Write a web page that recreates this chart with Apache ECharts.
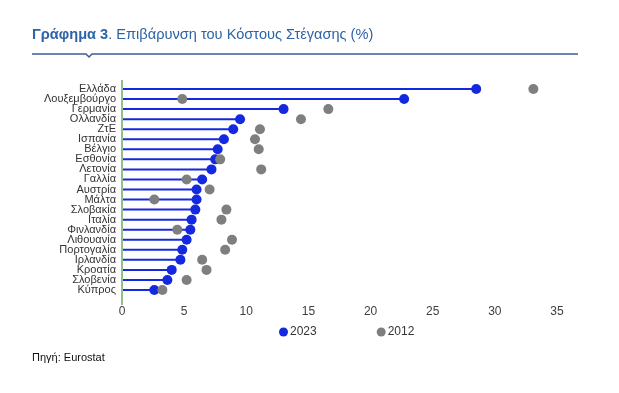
<!DOCTYPE html>
<html><head><meta charset="utf-8">
<script src="https://cdn.jsdelivr.net/npm/echarts@6/dist/echarts.min.js"></script>
<style>html,body{margin:0;padding:0;background:#fff}#c{width:619px;height:393px}</style>
</head><body><div id="c"></div>
<script>
const categories = ["Ελλάδα","Λουξεμβούργο","Γερμανία","Ολλανδία","ΖτΕ","Ισπανία","Βέλγιο","Εσθονία","Λετονία","Γαλλία","Αυστρία","Μάλτα","Σλοβακία","Ιταλία","Φινλανδία","Λιθουανία","Πορτογαλία","Ιρλανδία","Κροατία","Σλοβενία","Κύπρος"];
const values2023 = [28.5,22.7,13.0,9.5,8.95,8.2,7.7,7.5,7.2,6.45,6.0,6.0,5.9,5.6,5.5,5.2,4.85,4.7,4.0,3.65,2.6];
const values2012 = [33.1,4.85,16.6,14.4,11.1,10.7,11.0,7.9,11.2,5.2,7.05,2.6,8.4,8.0,4.45,8.85,8.3,6.45,6.8,5.2,3.25];
const xTicks = {min:0,max:35,interval:5};

const chart = echarts.init(document.getElementById('c'), null, {renderer:'canvas'});
const blue = '#1428e0', gray = '#7f7f7f';
const ff = 'Arial, Liberation Sans, sans-serif';
chart.setOption({
  animation:false,
  title:{
    text:'{b|Γράφημα 3}. Επιβάρυνση του Κόστους Στέγασης (%)',
    left:27, top:22,
    textStyle:{fontFamily:ff,fontSize:14.6,fontWeight:'normal',color:'#2e63a6',
      rich:{b:{fontFamily:ff,fontSize:14.6,fontWeight:'bold',color:'#2e63a6'}}}
  },
  graphic:[
    {type:'polyline',shape:{points:[[32,54],[86,54],[89,57],[92,54],[578,54]]},style:{stroke:'#3a5f8f',lineWidth:1.5,fill:null}},
    {type:'line',shape:{x1:122,y1:80,x2:122,y2:305},style:{stroke:'#8fbf8f',lineWidth:2},z:10},
    {type:'text',left:32,top:352,style:{text:'Πηγή: Eurostat',fontFamily:ff,fontSize:11,fill:'#111'}}
  ],
  legend:{
    data:['2023','2012'], top:321, left:274, itemGap:60, itemWidth:9, itemHeight:9,
    icon:'circle',
    textStyle:{fontFamily:ff,fontSize:12,color:'#333',padding:[0,0,0,-3]}
  },
  grid:{left:122,right:62,top:84,bottom:98,containLabel:false},
  xAxis:{type:'value',min:xTicks.min,max:xTicks.max,interval:xTicks.interval,
    splitLine:{show:false},axisLine:{show:false},axisTick:{show:false},
    axisLabel:{fontFamily:ff,fontSize:12,color:'#404040',margin:11}},
  yAxis:{type:'category',data:categories,inverse:true,
    axisLine:{show:false},axisTick:{show:false},
    axisLabel:{fontFamily:ff,fontSize:11,color:'#333',margin:6,interval:0}},
  series:[
    {name:'2023',type:'bar',data:values2023,barWidth:2,itemStyle:{color:blue},legendHoverLink:false,silent:true,z:2},
    {name:'2023',type:'scatter',data:values2023,symbolSize:10,itemStyle:{color:blue,opacity:1},z:3},
    {name:'2012',type:'scatter',data:values2012,symbolSize:10,itemStyle:{color:gray,opacity:1},z:4}
  ]
});
</script></body></html>
